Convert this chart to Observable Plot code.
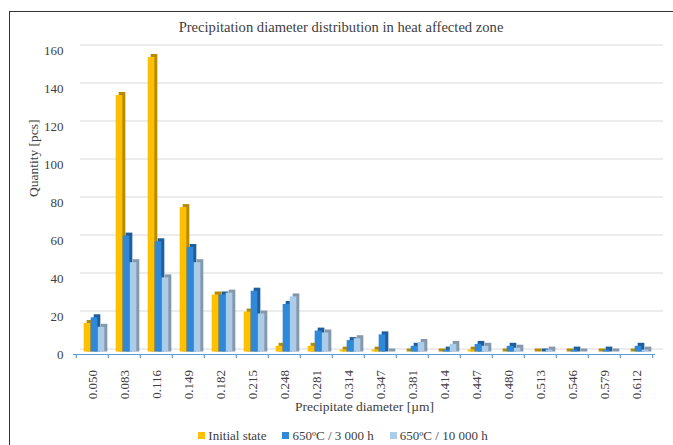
<!DOCTYPE html>
<html>
<head>
<meta charset="utf-8">
<script src="https://cdn.jsdelivr.net/npm/d3@7"></script>
<script src="https://cdn.jsdelivr.net/npm/@observablehq/plot@0.6"></script>
<style>
  html, body { margin: 0; padding: 0; background: #fff; overflow: hidden; width: 673px; height: 445px; }
  #frame { position: absolute; left: 9px; top: 11px; width: 700px; height: 500px; border-left: 1.5px solid #333; border-top: 1.5px solid #333; }
  #title { position: absolute; left: 9px; width: 664px; top: 19px; text-align: center; font: 14.6px "Liberation Serif", "Times New Roman", serif; color: #404040; }
  #chart { position: absolute; left: 0; top: 35px; }
  #legend { position: absolute; left: 0; width: 686px; top: 428px; display: flex; justify-content: center; gap: 16px; font: 13px "Liberation Serif", "Times New Roman", serif; color: #404040; line-height: 16px; }
  #legend span.sw { display: inline-block; width: 7px; height: 7px; margin-right: 3px; vertical-align: 1px; }
</style>
</head>
<body>
<div id="frame"></div>
<div id="title">Precipitation diameter distribution in heat affected zone</div>
<div id="chart"></div>
<div id="legend"></div>
<script>
const categories = ["0.050","0.083","0.116","0.149","0.182","0.215","0.248","0.281","0.314","0.347","0.381","0.414","0.447","0.480","0.513","0.546","0.579","0.612"];
const initialState = [15,135,155,76,30,21,3,3,1,1,0,0,1,0,0,0,0,0];
const h3000 = [18,61,58,55,30,32,25,11,6,9,3,1,4,3,0,1,1,3];
const h10000 = [13,47,39,47,31,20,29,10,7,0,5,4,3,2,1,0,0,1];
const seriesNames = ["Initial state", "650ºC / 3 000 h", "650ºC / 10 000 h"];
const yTicks = [0,20,40,60,80,100,120,140,160];

const fronts = ["#FFC000", "#2F88D8", "#AACDEB"];
const sides = ["#B88A00", "#1D5E9E", "#8798AB"];
const offsets = [-5, 2, 9];

const W = 673, H = 385, mL = 73, mR = 18, mT = 9.5, mB = 71.5;
const bw = (W - mL - mR) / categories.length;
const barW = 7;
const inset = (bw - barW) / 2;
const lift = 5.5;

const seriesValues = [initialState, h3000, h10000];
const tables = seriesValues.map(vals => categories.map((c, i) => ({cat: c, value: vals[i]})));

const barMarks = [];
tables.forEach((t, s) => {
  barMarks.push(Plot.barY(t, {x: "cat", y: "value", fill: sides[s], insetLeft: inset, insetRight: inset, dx: offsets[s] + 3, dy: 0, insetBottom: -3}));
  barMarks.push(Plot.barY(t, {x: "cat", y: "value", fill: fronts[s], insetLeft: inset, insetRight: inset, dx: offsets[s], dy: 3}));
});

const chart = Plot.plot({
  width: W, height: H,
  marginLeft: mL, marginRight: mR, marginTop: mT, marginBottom: mB,
  style: {fontFamily: '"Liberation Serif", "Times New Roman", serif', fontSize: "13px", color: "#404040", background: "transparent"},
  x: {type: "band", domain: categories, padding: 0, label: null},
  y: {domain: [0, 160], label: null},
  marks: [
    Plot.ruleY(yTicks, {stroke: "#d9d9d9", strokeWidth: 1, insetLeft: 7, insetRight: -8}),
    Plot.axisY({ticks: yTicks, tickSize: 0, tickPadding: 10, dy: lift, fontSize: 13, label: null}),
    Plot.axisX({tickRotate: -90, tickSize: 0, tickPadding: 21, fontSize: 13, label: null}),
    ...barMarks,
    Plot.ruleY([0], {stroke: "#5B9BD5", strokeWidth: 1.2, dy: lift}),
    Plot.ruleX(categories, {x: d => d, y1: 0, y2: 0, insetBottom: -4, dy: lift, dx: -bw / 2, stroke: "#5B9BD5", strokeWidth: 1.2}),
    Plot.ruleX([categories[categories.length - 1]], {x: d => d, y1: 0, y2: 0, insetBottom: -4, dy: lift, dx: bw / 2, stroke: "#5B9BD5", strokeWidth: 1.2}),
    Plot.text(["Precipitate diameter [µm]"], {frameAnchor: "bottom", dy: 62, fontSize: 13.5, fill: "#404040"}),
    Plot.text(["Quantity [pcs]"], {frameAnchor: "left", rotate: -90, dx: -39.5, fontSize: 13.5, fill: "#404040"})
  ]
});
document.getElementById("chart").appendChild(chart);

const legend = document.getElementById("legend");
seriesNames.forEach((n, i) => {
  const item = document.createElement("div");
  const sw = document.createElement("span");
  sw.className = "sw";
  sw.style.background = fronts[i];
  item.appendChild(sw);
  item.appendChild(document.createTextNode(n));
  legend.appendChild(item);
});
</script>
</body>
</html>
